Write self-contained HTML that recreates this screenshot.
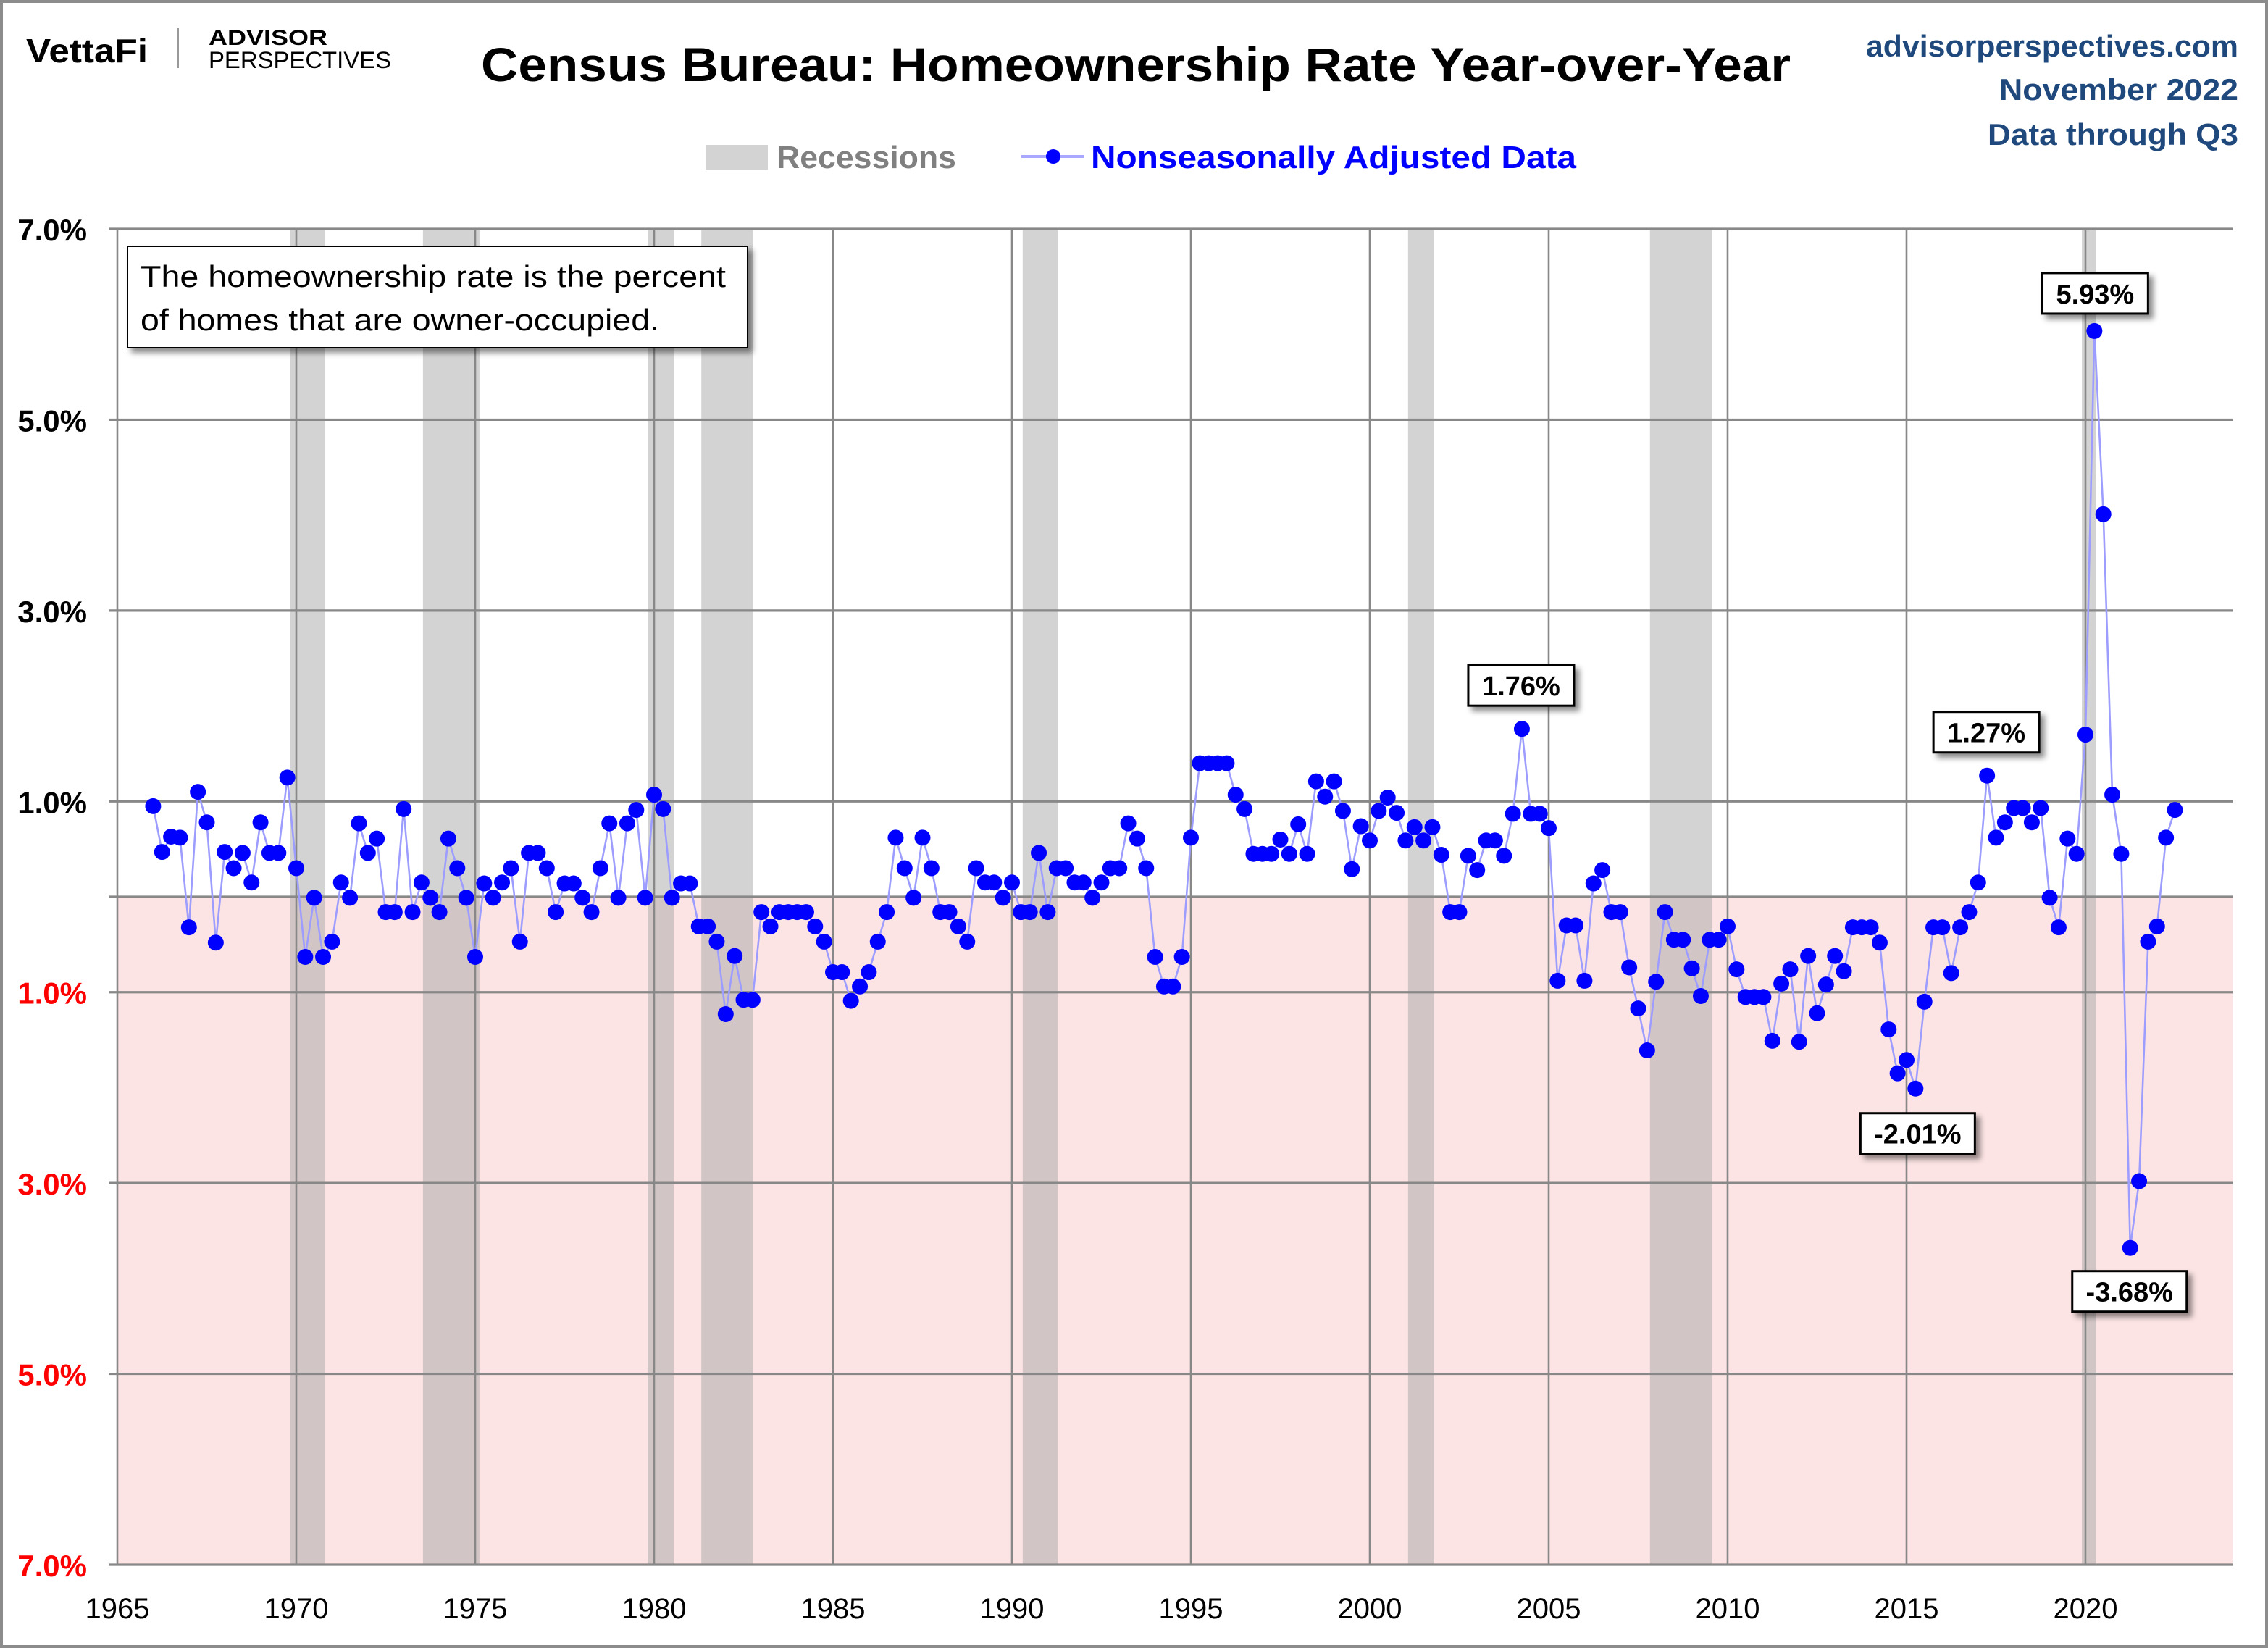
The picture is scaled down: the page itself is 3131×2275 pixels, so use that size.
<!DOCTYPE html>
<html><head><meta charset="utf-8"><title>Census Bureau: Homeownership Rate Year-over-Year</title>
<style>
html,body{margin:0;padding:0;background:#fff;}
svg{display:block;font-family:"Liberation Sans",sans-serif;}
</style></head>
<body>
<svg id="chart" xmlns="http://www.w3.org/2000/svg" width="3131" height="2275" viewBox="0 0 1565.5 1137.5">
<defs>
<filter id="sh" x="-20%" y="-20%" width="150%" height="160%"><feDropShadow dx="3" dy="3" stdDeviation="2" flood-color="#000" flood-opacity="0.45"/></filter>
</defs>
<rect x="1" y="1" width="1563.5" height="1135.5" fill="#fff" stroke="#8c8c8c" stroke-width="2"/>
<g>
<text x="18" y="43" font-size="23" font-weight="bold" textLength="84" lengthAdjust="spacingAndGlyphs">VettaFi</text>
<line x1="123" y1="19" x2="123" y2="47" stroke="#999" stroke-width="1"/>
<text x="144" y="31" font-size="15" font-weight="bold" textLength="82" lengthAdjust="spacingAndGlyphs">ADVISOR</text>
<text x="144" y="47" font-size="16" textLength="126" lengthAdjust="spacingAndGlyphs">PERSPECTIVES</text>
<text x="332" y="56" font-size="33" font-weight="bold" textLength="904" lengthAdjust="spacingAndGlyphs">Census Bureau: Homeownership Rate Year-over-Year</text>
<text x="1545" y="39" font-size="21" font-weight="bold" fill="#1F497D" text-anchor="end" textLength="257" lengthAdjust="spacingAndGlyphs">advisorperspectives.com</text>
<text x="1545" y="69" font-size="21" font-weight="bold" fill="#1F497D" text-anchor="end" textLength="165" lengthAdjust="spacingAndGlyphs">November 2022</text>
<text x="1545" y="100" font-size="21" font-weight="bold" fill="#1F497D" text-anchor="end" textLength="173" lengthAdjust="spacingAndGlyphs">Data through Q3</text>
</g>
<g>
<rect x="487" y="100" width="43" height="17" fill="#d3d3d3"/>
<text x="536" y="116" font-size="22" font-weight="bold" fill="#808080" textLength="124" lengthAdjust="spacingAndGlyphs">Recessions</text>
<line x1="705" y1="108" x2="748" y2="108" stroke="#a8a8ff" stroke-width="2"/>
<circle cx="727" cy="108" r="5" fill="#0000ff"/>
<text x="753" y="116" font-size="22" font-weight="bold" fill="#0000ff" textLength="335" lengthAdjust="spacingAndGlyphs">Nonseasonally Adjusted Data</text>
</g>
<g id="plot"></g>
</svg>
<script>
const startYear = 1966;
const values = [
0.95,0.47,0.63,0.62, -0.32,1.10,0.78,-0.48, 0.47,0.30,0.46,0.15, 0.78,0.46,0.46,1.25,
0.30,-0.63,-0.01,-0.63, -0.47,0.15,-0.01,0.77, 0.46,0.61,-0.16,-0.16, 0.92,-0.16,0.15,-0.01,
-0.16,0.61,0.30,-0.01, -0.63,0.14,-0.01,0.15, 0.30,-0.47,0.46,0.46, 0.30,-0.16,0.14,0.14,
-0.01,-0.16,0.30,0.77, -0.01,0.77,0.91,-0.01, 1.07,0.92,-0.01,0.14, 0.14,-0.31,-0.31,-0.47,
-1.23,-0.62,-1.08,-1.08, -0.16,-0.31,-0.16,-0.16, -0.16,-0.16,-0.31,-0.47, -0.79,-0.79,-1.09,-0.94,
-0.79,-0.47,-0.16,0.62, 0.30,-0.01,0.62,0.30, -0.16,-0.16,-0.31,-0.47, 0.30,0.15,0.15,-0.01,
0.15,-0.16,-0.16,0.46, -0.16,0.30,0.30,0.15, 0.15,-0.01,0.15,0.30, 0.30,0.77,0.61,0.30,
-0.63,-0.94,-0.94,-0.63, 0.62,1.40,1.40,1.40, 1.40,1.07,0.92,0.45, 0.45,0.45,0.60,0.45,
0.76,0.45,1.21,1.05, 1.21,0.90,0.29,0.74, 0.59,0.90,1.04,0.88, 0.59,0.73,0.59,0.73,
0.44,-0.16,-0.16,0.43, 0.28,0.59,0.59,0.43, 0.87,1.76,0.87,0.87, 0.72,-0.88,-0.30,-0.30,
-0.88,0.14,0.28,-0.16, -0.16,-0.74,-1.17,-1.61, -0.89,-0.16,-0.45,-0.45, -0.75,-1.04,-0.45,-0.45,
-0.31,-0.76,-1.05,-1.05, -1.05,-1.51,-0.91,-0.76, -1.52,-0.62,-1.22,-0.92, -0.62,-0.78,-0.32,-0.32,
-0.32,-0.48,-1.39,-1.85, -1.71,-2.01,-1.10,-0.32, -0.32,-0.80,-0.32,-0.16, 0.15,1.27,0.62,0.78,
0.93,0.93,0.78,0.93, -0.01,-0.32,0.61,0.45, 1.70,5.93,4.01,1.07, 0.45,-3.68,-2.98,-0.47,
-0.31,0.62,0.91
];
const recessionStarts = [1969.82, 1973.54, 1979.82, 1981.32, 1990.30, 2001.07, 2007.83, 2019.90];
const recessionEnds   = [1970.79, 1975.12, 1980.55, 1982.77, 1991.28, 2001.80, 2009.57, 2020.30];
const yTicks = [7, 5, 3, 1, -1, -3, -5, -7];
const yTickLabels = ["7.0%","5.0%","3.0%","1.0%","1.0%","3.0%","5.0%","7.0%"];
const xTicks = [1965,1970,1975,1980,1985,1990,1995,2000,2005,2010,2015,2020];
const calloutValues = ["1.76%","1.27%","5.93%","-2.01%","-3.68%"];
const calloutIndex = [153, 205, 217, 197, 221];

const L=81, R=1541, T=158, B=1080;
function x(yr){ return L + (yr-1965)*24.7; }
function y(v){ return T + (7 - v)*(B-T)/14; }
const NS="http://www.w3.org/2000/svg";
const plot=document.getElementById('plot');
function el(tag, attrs, parent){ const e=document.createElementNS(NS,tag); for(const k in attrs) e.setAttribute(k,attrs[k]); (parent||plot).appendChild(e); return e; }

let e;
e=el('rect',{x:L,y:y(0),width:R-L,height:B-y(0),fill:'#fde4e4'});


for(let i=0;i<recessionStarts.length;i++){
  e=el('rect',{x:x(recessionStarts[i]),y:T,width:x(recessionEnds[i])-x(recessionStarts[i]),height:B-T,fill:'rgb(163,163,163)','fill-opacity':0.48});
  
  
}
for(const v of yTicks.concat([0])){
  e=el('line',{x1:L-6,y1:y(v),x2:R,y2:y(v),stroke:'#888',  'stroke-width':1.6});
  
  
}
for(const t of xTicks){
  e=el('line',{x1:x(t),y1:T,x2:x(t),y2:B,stroke:'#888','stroke-width':1.3});
  
  
  e=el('text',{x:x(t),y:B+37,'font-size':20,'text-anchor':'middle'});
  e.textContent=t;
  
  
}
yTicks.forEach((v,i)=>{
  e=el('text',{x:60,y:y(v)+8,'font-size':21,'font-weight':'bold','text-anchor':'end',fill:v<0?'#ff0000':'#000'});
  e.textContent=yTickLabels[i];
  
  
});
const pts=values.map((v,i)=>[x(startYear+i/4), y(v)]);
e=el('polyline',{points:pts.map(p=>p[0].toFixed(2)+','+p[1].toFixed(2)).join(' '),fill:'none',stroke:'#9d9dff','stroke-width':1.3});


pts.forEach(p=>{
  const c=el('circle',{cx:p[0],cy:p[1],r:5.5,fill:'#0000ff'});
  
  
});
const g=el('g',{});


el('rect',{x:88,y:170,width:428,height:70,fill:'#fff',stroke:'#000','stroke-width':1,filter:'url(#sh)'},g);
let t1=el('text',{x:97,y:198,'font-size':21,textLength:404,lengthAdjust:'spacingAndGlyphs'},g); t1.textContent='The homeownership rate is the percent';
let t2=el('text',{x:97,y:228,'font-size':21,textLength:358,lengthAdjust:'spacingAndGlyphs'},g); t2.textContent='of homes that are owner-occupied.';
const boxOffsets=[[-37,-44],[-37,-44],[-36,-40],[-38,17],[-40,16]];
calloutIndex.forEach((idx,i)=>{
  const p=pts[idx];
  const txt=calloutValues[i];
  const w=txt.length>5?79:73;
  const bx=p[0]+boxOffsets[i][0], by=p[1]+boxOffsets[i][1];
  const cg=el('g',{});
  
  
  el('rect',{x:bx,y:by,width:w,height:28,fill:'#fff',stroke:'#000','stroke-width':1.5,filter:'url(#sh)'},cg);
  const tt=el('text',{x:bx+w/2,y:by+21,'font-size':19,'font-weight':'bold','text-anchor':'middle'},cg);
  tt.textContent=txt;
});
</script>
</body></html>
